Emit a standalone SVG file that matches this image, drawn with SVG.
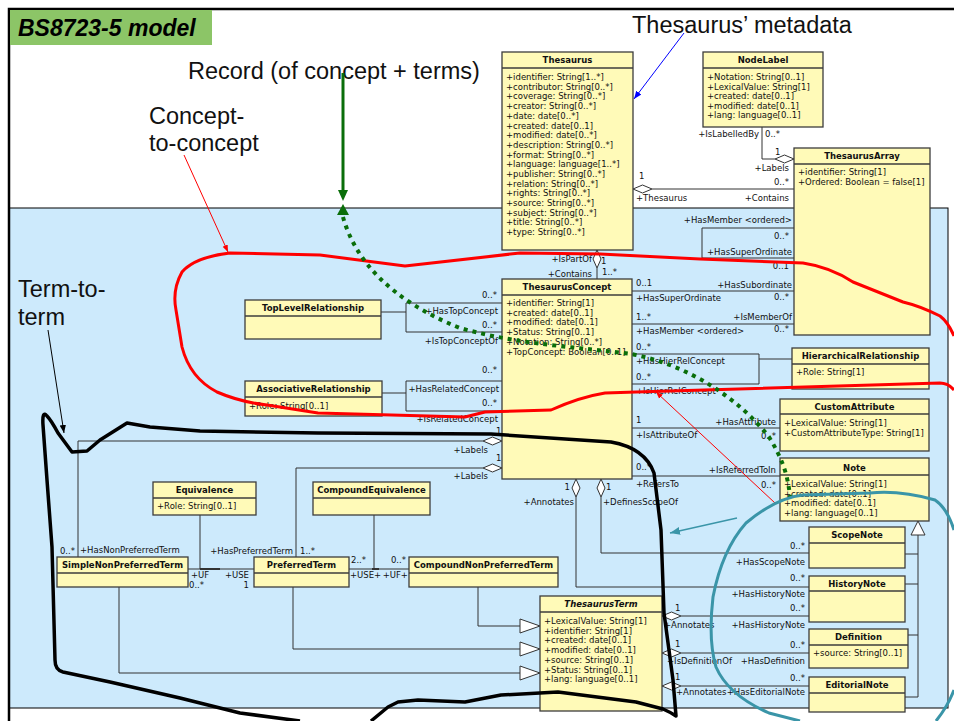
<svg xmlns="http://www.w3.org/2000/svg" width="954" height="721" viewBox="0 0 954 721">
<defs>
<style>
.box{fill:#fffab8;stroke:#3c3c3c;stroke-width:1.3}
.sep{stroke:#3c3c3c;stroke-width:1.3}
.t{font-family:"DejaVu Sans",Verdana,sans-serif;font-size:8.5px;fill:#111}
.n{font-weight:bold;text-anchor:middle}
.e{text-anchor:end}
.ln{fill:none;stroke:#333;stroke-width:1}
.dm{fill:#fff;stroke:#333;stroke-width:1}
.big{font-family:"Liberation Sans",Arial,sans-serif;font-size:23.5px;fill:#111}
</style>
<marker id="arR" viewBox="0 0 10 10" refX="10" refY="5" markerWidth="7" markerHeight="7" markerUnits="userSpaceOnUse" orient="auto"><path d="M0,1L10,5L0,9z" fill="#f00"/></marker>
<marker id="arB" viewBox="0 0 10 10" refX="10" refY="5" markerWidth="8" markerHeight="8" markerUnits="userSpaceOnUse" orient="auto"><path d="M0,1L10,5L0,9z" fill="#00f"/></marker>
<marker id="arK" viewBox="0 0 10 10" refX="10" refY="5" markerWidth="8" markerHeight="8" markerUnits="userSpaceOnUse" orient="auto"><path d="M0,1L10,5L0,9z" fill="#000"/></marker>
<marker id="arT" viewBox="0 0 10 10" refX="10" refY="5" markerWidth="10" markerHeight="10" markerUnits="userSpaceOnUse" orient="auto"><path d="M0,1L10,5L0,9z" fill="#3a95a8"/></marker>
</defs>
<rect x="0" y="0" width="954" height="721" fill="#fff"/>
<rect x="9" y="208" width="939" height="500" fill="#cdeafc" stroke="#000" stroke-width="1"/>
<path d="M954,9H9V721" fill="none" stroke="#000" stroke-width="2.5"/>
<g id="title">
<rect x="10" y="10" width="202" height="35" fill="#8cc567"/>
<text x="18" y="36" font-family="Liberation Sans,Arial,sans-serif" font-size="23px" font-weight="bold" font-style="italic" fill="#000">BS8723-5 model</text>
</g>

<g id="connectors">
<!-- NodeLabel - ThesaurusArray -->
<path class="ln" d="M762,127V159H775"/>
<polygon class="dm" points="775,159 784.5,155 794,159 784.5,163"/>
<text class="t e" x="759" y="137">+IsLabelledBy</text>
<text class="t" x="765" y="137">0..*</text>
<text class="t" x="775" y="155">1</text>
<text class="t e" x="789" y="171">+Labels</text>
<!-- Thesaurus - ThesaurusArray -->
<polygon class="dm" points="633,189 642.5,185 652,189 642.5,193"/>
<path class="ln" d="M652,189H794"/>
<text class="t" x="639" y="179">1</text>
<text class="t" x="636" y="201">+Thesaurus</text>
<text class="t e" x="789" y="185">0..*</text>
<text class="t e" x="789" y="201">+Contains</text>
<!-- ThesaurusArray self -->
<path class="ln" d="M794,228H702V258H794"/>
<text class="t e" x="792" y="223">+HasMember &lt;ordered&gt;</text>
<text class="t e" x="789" y="239">0..*</text>
<text class="t e" x="792" y="255">+HasSuperOrdinate</text>
<text class="t e" x="789" y="269">0..1</text>
<!-- Concept - Array -->
<path class="ln" d="M632,291H794"/>
<text class="t" x="636" y="286">0..1</text>
<text class="t e" x="792" y="288">+HasSubordinate</text>
<text class="t" x="636" y="301">+HasSuperOrdinate</text>
<text class="t e" x="789" y="300">0..*</text>
<path class="ln" d="M632,324H794"/>
<text class="t" x="636" y="320">1..*</text>
<text class="t e" x="792" y="320">+IsMemberOf</text>
<text class="t" x="636" y="334">+HasMember &lt;ordered&gt;</text>
<text class="t e" x="789" y="332">0..*</text>
<!-- Thesaurus - Concept -->
<polygon class="dm" points="597,250 601,259 597,268 593,259"/>
<path class="ln" d="M597,268V279"/>
<text class="t e" x="592" y="262">+IsPartOf</text>
<text class="t" x="601" y="264">1</text>
<text class="t e" x="592" y="277">+Contains</text>
<text class="t" x="602" y="275">1..*</text>
<!-- TopLevelRelationship -->
<path class="ln" d="M381,312H406M502,303H406V332H502"/>
<text class="t e" x="497" y="298">0..*</text>
<text class="t e" x="498" y="314">+HasTopConcept</text>
<text class="t e" x="497" y="328">0..*</text>
<text class="t e" x="498" y="344">+IsTopConceptOf</text>
<!-- AssociativeRelationship -->
<path class="ln" d="M382,393H406M502,381H406V411H502"/>
<text class="t e" x="497" y="373">0..*</text>
<text class="t e" x="499" y="392">+HasRelatedConcept</text>
<text class="t e" x="497" y="406">0..*</text>
<text class="t e" x="498" y="422">+IsRelatedConcept</text>
<!-- HierarchicalRelationship -->
<path class="ln" d="M792,359H759M632,354H759V384H632"/>
<text class="t" x="636" y="350">0..*</text>
<text class="t" x="636" y="364">+HasHierRelConcept</text>
<text class="t" x="636" y="380">0..*</text>
<text class="t" x="636" y="394">+IsHierRelConcept</text>
<!-- CustomAttribute -->
<path class="ln" d="M632,428H780"/>
<text class="t" x="636" y="423">1</text>
<text class="t e" x="776" y="425">+HasAttribute</text>
<text class="t" x="636" y="438">+IsAttributeOf</text>
<text class="t e" x="776" y="439">0..*</text>
<!-- Note -->
<path class="ln" d="M632,476H780"/>
<text class="t" x="636" y="470">0..*</text>
<text class="t e" x="776" y="473">+IsReferredToIn</text>
<text class="t" x="636" y="487">+RefersTo</text>
<text class="t e" x="776" y="488">0..*</text>
<!-- Labels to terms -->
<polygon class="dm" points="502,441 492.5,437 483,441 492.5,445"/>
<path class="ln" d="M483,441H78V557"/>
<text class="t" x="496" y="434">1</text>
<text class="t e" x="488" y="453">+Labels</text>
<text class="t e" x="75" y="554">0..*</text>
<text class="t" x="80" y="553">+HasNonPreferredTerm</text>
<polygon class="dm" points="502,468 492.5,464 483,468 492.5,472"/>
<path class="ln" d="M483,468H296V557"/>
<text class="t" x="496" y="461">1</text>
<text class="t e" x="488" y="479">+Labels</text>
<text class="t e" x="293" y="554">+HasPreferredTerm</text>
<text class="t" x="300" y="554">1..*</text>
<!-- Equivalence -->
<path class="ln" d="M188,569H254M200,515V569"/>
<path d="M200,569H220" stroke="#333" stroke-width="2"/>
<text class="t" x="191" y="578">+UF</text>
<text class="t" x="189" y="588">0..*</text>
<text class="t e" x="249" y="578">+USE</text>
<text class="t e" x="249" y="588">1</text>
<!-- CompoundEquivalence -->
<path class="ln" d="M349,569H409M374,515V569"/>
<path d="M372,569H379" stroke="#333" stroke-width="2"/>
<text class="t" x="351" y="563">2..*</text>
<text class="t" x="350" y="578">+USE+</text>
<text class="t e" x="406" y="563">0..*</text>
<text class="t e" x="408" y="578">+UF+</text>
<!-- Generalizations to ThesaurusTerm -->
<path class="ln" d="M478,587V626H520M293,587V649H520M119,587V673H520"/>
<polygon class="dm" points="520,619 540,626 520,633"/>
<polygon class="dm" points="520,642 540,649 520,656"/>
<polygon class="dm" points="520,666 540,673 520,680"/>
<!-- Concept to notes -->
<polygon class="dm" points="576,479 580,488 576,497 572,488"/>
<path class="ln" d="M576,497V587H809"/>
<text class="t e" x="570" y="490">1</text>
<text class="t e" x="574" y="505">+Annotates</text>
<text class="t e" x="805" y="581">0..*</text>
<text class="t e" x="805" y="597">+HasHistoryNote</text>
<polygon class="dm" points="601,479 605,488 601,497 597,488"/>
<path class="ln" d="M601,497V553H809"/>
<text class="t" x="606" y="490">1</text>
<text class="t" x="603" y="505">+DefinesScopeOf</text>
<text class="t e" x="805" y="549">0..*</text>
<text class="t e" x="805" y="565">+HasScopeNote</text>
<!-- Term to notes -->
<polygon class="dm" points="662,616 671.5,612 681,616 671.5,620"/>
<path class="ln" d="M681,616H809"/>
<text class="t" x="675" y="611">1</text>
<text class="t" x="664" y="628">+Annotates</text>
<text class="t e" x="805" y="611">0..*</text>
<text class="t e" x="805" y="628">+HasHistoryNote</text>
<polygon class="dm" points="662,653 671.5,649 681,653 671.5,657"/>
<path class="ln" d="M681,653H809"/>
<text class="t" x="675" y="647">1</text>
<text class="t" x="667" y="664">+IsDefinitionOf</text>
<text class="t e" x="805" y="648">0..*</text>
<text class="t e" x="805" y="664">+HasDefinition</text>
<polygon class="dm" points="662,686 671.5,682 681,686 671.5,690"/>
<path class="ln" d="M681,686H809"/>
<text class="t" x="675" y="680">1</text>
<text class="t" x="676" y="695">+Annotates</text>
<text class="t e" x="805" y="681">0..*</text>
<text class="t e" x="805" y="695">+HasEditorialNote</text>
<!-- Note generalization -->
<path class="ln" d="M918,535V697M905,554H918M905,584H918M908,635H918M905,697H918"/>
<polygon class="dm" points="918,521 925,535 911,535"/>
</g>

<g id="Thesaurus">
<rect class="box" x="502" y="52" width="131" height="198"/>
<line class="sep" x1="502" y1="68" x2="633" y2="68"/>
<text class="t n" x="567.5" y="63">Thesaurus</text>
<text class="t" x="506" y="80"><tspan x="506">+identifier: String[1..*]</tspan><tspan x="506" dy="9.7">+contributor: String[0..*]</tspan><tspan x="506" dy="9.7">+coverage: String[0..*]</tspan><tspan x="506" dy="9.7">+creator: String[0..*]</tspan><tspan x="506" dy="9.7">+date: date[0..*]</tspan><tspan x="506" dy="9.7">+created: date[0..1]</tspan><tspan x="506" dy="9.7">+modified: date[0..*]</tspan><tspan x="506" dy="9.7">+description: String[0..*]</tspan><tspan x="506" dy="9.7">+format: String[0..*]</tspan><tspan x="506" dy="9.7">+language: language[1..*]</tspan><tspan x="506" dy="9.7">+publisher: String[0..*]</tspan><tspan x="506" dy="9.7">+relation: String[0..*]</tspan><tspan x="506" dy="9.7">+rights: String[0..*]</tspan><tspan x="506" dy="9.7">+source: String[0..*]</tspan><tspan x="506" dy="9.7">+subject: String[0..*]</tspan><tspan x="506" dy="9.7">+title: String[0..*]</tspan><tspan x="506" dy="9.7">+type: String[0..*]</tspan></text>
</g>
<g id="NodeLabel">
<rect class="box" x="703" y="52" width="120" height="75"/>
<line class="sep" x1="703" y1="68" x2="823" y2="68"/>
<text class="t n" x="763" y="63">NodeLabel</text>
<text class="t" x="707" y="80"><tspan x="707">+Notation: String[0..1]</tspan><tspan x="707" dy="9.5">+LexicalValue: String[1]</tspan><tspan x="707" dy="9.5">+created: date[0..1]</tspan><tspan x="707" dy="9.5">+modified: date[0..1]</tspan><tspan x="707" dy="9.5">+lang: language[0..1]</tspan></text>
</g>
<g id="ThesaurusArray">
<rect class="box" x="794" y="148" width="136" height="187"/>
<line class="sep" x1="794" y1="164" x2="930" y2="164"/>
<text class="t n" x="862" y="159">ThesaurusArray</text>
<text class="t" x="798" y="175"><tspan x="798">+identifier: String[1]</tspan><tspan x="798" dy="9.7">+Ordered: Boolean = false[1]</tspan></text>
</g>
<g id="ThesaurusConcept">
<rect class="box" x="502" y="279" width="130" height="200"/>
<line class="sep" x1="502" y1="295" x2="632" y2="295"/>
<text class="t n" x="567" y="290">ThesaurusConcept</text>
<text class="t" x="506" y="306"><tspan x="506">+identifier: String[1]</tspan><tspan x="506" dy="9.7">+created: date[0..1]</tspan><tspan x="506" dy="9.7">+modified: date[0..1]</tspan><tspan x="506" dy="9.7">+Status: String[0..1]</tspan><tspan x="506" dy="9.7">+Notation: String[0..*]</tspan><tspan x="506" dy="9.7">+TopConcept: Boolean[0..1]</tspan></text>
</g>
<g id="TopLevelRelationship">
<rect class="box" x="245" y="300" width="136" height="39"/>
<line class="sep" x1="245" y1="316" x2="381" y2="316"/>
<text class="t n" x="313" y="311">TopLevelRelationship</text>
</g>
<g id="AssociativeRelationship">
<rect class="box" x="245" y="381" width="137" height="35"/>
<line class="sep" x1="245" y1="397" x2="382" y2="397"/>
<text class="t n" x="313.5" y="392">AssociativeRelationship</text>
<text class="t" x="249" y="409">+Role: String[0..1]</text>
</g>
<g id="HierarchicalRelationship">
<rect class="box" x="792" y="348" width="137" height="41"/>
<line class="sep" x1="792" y1="364" x2="929" y2="364"/>
<text class="t n" x="860.5" y="359">HierarchicalRelationship</text>
<text class="t" x="796" y="375">+Role: String[1]</text>
</g>
<g id="CustomAttribute">
<rect class="box" x="780" y="399" width="149" height="52"/>
<line class="sep" x1="780" y1="414" x2="929" y2="414"/>
<text class="t n" x="854.5" y="410">CustomAttribute</text>
<text class="t" x="784" y="426"><tspan x="784">+LexicalValue: String[1]</tspan><tspan x="784" dy="9.7">+CustomAttributeType: String[1]</tspan></text>
</g>
<g id="Note">
<rect class="box" x="780" y="458" width="149" height="63"/>
<line class="sep" x1="780" y1="475" x2="929" y2="475"/>
<text class="t n" x="854.5" y="471">Note</text>
<text class="t" x="784" y="487"><tspan x="784">+LexicalValue: String[1]</tspan><tspan x="784" dy="9.5">+created: date[0..1]</tspan><tspan x="784" dy="9.5">+modified: date[0..1]</tspan><tspan x="784" dy="9.5">+lang: language[0..1]</tspan></text>
</g>
<g id="ScopeNote">
<rect class="box" x="809" y="527" width="96" height="41"/>
<line class="sep" x1="809" y1="543" x2="905" y2="543"/>
<text class="t n" x="857" y="538">ScopeNote</text>
</g>
<g id="HistoryNote">
<rect class="box" x="809" y="576" width="96" height="46"/>
<line class="sep" x1="809" y1="591" x2="905" y2="591"/>
<text class="t n" x="857" y="587">HistoryNote</text>
</g>
<g id="Definition">
<rect class="box" x="809" y="629" width="99" height="39"/>
<line class="sep" x1="809" y1="645" x2="908" y2="645"/>
<text class="t n" x="858.5" y="640">Definition</text>
<text class="t" x="813" y="656">+source: String[0..1]</text>
</g>
<g id="EditorialNote">
<rect class="box" x="809" y="677" width="96" height="35"/>
<line class="sep" x1="809" y1="693" x2="905" y2="693"/>
<text class="t n" x="857" y="688">EditorialNote</text>
</g>
<g id="ThesaurusTerm">
<rect class="box" x="540" y="596" width="122" height="115"/>
<line class="sep" x1="540" y1="612" x2="662" y2="612"/>
<text class="t n" x="601" y="607" font-style="italic">ThesaurusTerm</text>
<text class="t" x="544" y="624"><tspan x="544">+LexicalValue: String[1]</tspan><tspan x="544" dy="9.7">+identifier: String[1]</tspan><tspan x="544" dy="9.7">+created: date[0..1]</tspan><tspan x="544" dy="9.7">+modified: date[0..1]</tspan><tspan x="544" dy="9.7">+source: String[0..1]</tspan><tspan x="544" dy="9.7">+Status: String[0..1]</tspan><tspan x="544" dy="9.7">+lang: language[0..1]</tspan></text>
</g>
<g id="Equivalence">
<rect class="box" x="153" y="482" width="103" height="33"/>
<line class="sep" x1="153" y1="498" x2="256" y2="498"/>
<text class="t n" x="204.5" y="493">Equivalence</text>
<text class="t" x="157" y="509">+Role: String[0..1]</text>
</g>
<g id="CompoundEquivalence">
<rect class="box" x="313" y="482" width="117" height="33"/>
<line class="sep" x1="313" y1="498" x2="430" y2="498"/>
<text class="t n" x="371.5" y="493">CompoundEquivalence</text>
</g>
<g id="SimpleNonPreferredTerm">
<rect class="box" x="57" y="557" width="131" height="30"/>
<line class="sep" x1="57" y1="573" x2="188" y2="573"/>
<text class="t n" x="122.5" y="568">SimpleNonPreferredTerm</text>
</g>
<g id="PreferredTerm">
<rect class="box" x="254" y="557" width="95" height="30"/>
<line class="sep" x1="254" y1="573" x2="349" y2="573"/>
<text class="t n" x="301.5" y="568">PreferredTerm</text>
</g>
<g id="CompoundNonPreferredTerm">
<rect class="box" x="409" y="557" width="149" height="30"/>
<line class="sep" x1="409" y1="573" x2="558" y2="573"/>
<text class="t n" x="483.5" y="568">CompoundNonPreferredTerm</text>
</g>

<g id="annotations">
<text class="big" x="188" y="79">Record (of concept + terms)</text>
<text class="big" x="149" y="124">Concept-</text>
<text class="big" x="149" y="151">to-concept</text>
<text class="big" x="632" y="33" font-size="21.5px">Thesaurus’ metadata</text>
<text class="big" x="18" y="297">Term-to-</text>
<text class="big" x="18" y="325">term</text>
<path d="M684,33L634,99" stroke="#00f" stroke-width="1" fill="none" marker-end="url(#arB)"/>
<path d="M184,155L228,252" stroke="#f00" stroke-width="1" fill="none" marker-end="url(#arR)"/>
<path d="M48,330L64,433" stroke="#000" stroke-width="1" fill="none" marker-end="url(#arK)"/>
<path d="M954,336Q948,322 940,316Q920,306 903,302L853,282Q830,267 803,263L700,259L600,254L520,253L405,266L320,255L230,253Q195,257 182,272Q172,290 176,310L182,347Q190,378 217,392Q240,402 267,405L318,413L465,417L485,412L551,410Q580,397 605,393L636,392L940,383Q948,383 954,390" fill="none" stroke="#f00" stroke-width="3" stroke-linejoin="round"/>
<path d="M775,503L656,392" stroke="#f00" stroke-width="1" fill="none" marker-end="url(#arR)"/>
<path d="M343,73V192" stroke="#0a6e0a" stroke-width="3" fill="none"/>
<polygon points="338,190 348,190 343,201" fill="#0a6e0a"/>
<polygon points="337,215 349,215 343,204" fill="#0a6e0a"/>
<path d="M343,217C355,260 390,300 460,328C520,345 580,347 631,354C690,365 740,400 769,437C782,458 788,475 790,497" fill="none" stroke="#0a6e0a" stroke-width="4" stroke-dasharray="4 5"/>
<path d="M300,721L240,713L180,698L110,682L63,672Q55,670 55,660L52,547L47,480L43,425Q42,410 47,416Q51,420 58,433L72,452L87,451L100,440L127,423L150,427L200,431L318,433L491,434L611,442Q645,448 654,473L661,530L664,613L673,680L676,716Q670,712 663,709L636,702L558,692L501,695L465,702L418,700L398,702L388,707L371,721" fill="none" stroke="#000" stroke-width="3.5" stroke-linejoin="round"/>
<path d="M954,530Q947,508 935,500Q900,490 870,493L803,495Q776,498 746,523Q722,550 713,597Q708,640 716,667Q728,695 769,713L800,721M936,721Q948,706 954,690" fill="none" stroke="#3a95a8" stroke-width="3"/>
<path d="M737,518L670,533" stroke="#3a95a8" stroke-width="1.5" fill="none" marker-end="url(#arT)"/>
</g>
</svg>
